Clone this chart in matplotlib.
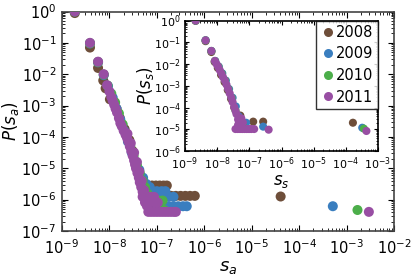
import numpy as np
import matplotlib
matplotlib.use("Agg")
import matplotlib.pyplot as plt
from matplotlib.ticker import LogLocator, NullFormatter, FixedLocator

# ---------------- data (log10 values) ----------------
years = ["2008", "2009", "2010", "2011"]
colors = ["#6e4e3a", "#3a7ebf", "#4cae4a", "#984ea3"]

# main panel: s_a vs P(s_a)
main_2008_lx = [-8.73, -8.41, -8.24, -8.13, -8.08, -7.99, -7.85, -7.78, -7.68, -7.58, -7.51, -7.44, -7.38,
                -7.33, -7.28, -7.10, -7.02, -6.94, -6.86, -6.79,
                -7.00, -6.90, -6.80, -6.70, -6.60, -6.50, -6.40, -6.30, -6.20, -4.39]
main_2008_ly = [-0.05, -1.15, -1.80, -2.20, -2.45, -2.80, -3.10, -3.40, -3.75, -4.10, -4.45, -4.80, -5.10,
                -5.35, -5.55, -5.55, -5.55, -5.55, -5.55, -5.55,
                -5.88, -5.88, -5.88, -5.88, -5.88, -5.88, -5.88, -5.88, -5.88, -5.90]

main_2009_lx = [-8.73, -8.41, -8.24, -8.12, -8.03, -7.93, -7.85, -7.77, -7.69, -7.61, -7.53, -7.45, -7.37,
                -7.29, -7.22, -7.15, -7.20, -7.10, -7.00, -6.90, -6.82,
                -7.15, -7.05, -6.95, -6.85, -6.75, -6.65,
                -7.05, -6.95, -6.85, -6.75, -6.65, -6.55, -6.45, -6.37, -3.29]
main_2009_ly = [0.0, -1.02, -1.62, -2.03, -2.38, -2.75, -3.10, -3.45, -3.80, -4.15, -4.50, -4.80, -5.05,
                -5.30, -5.50, -5.60, -5.73, -5.73, -5.73, -5.73, -5.73,
                -5.91, -5.91, -5.91, -5.91, -5.91, -5.91,
                -6.21, -6.21, -6.21, -6.21, -6.21, -6.21, -6.21, -6.21, -6.21]

main_2010_lx = [-8.73, -8.41, -8.24, -8.12, -8.04, -7.96, -7.88, -7.80, -7.72, -7.64, -7.56, -7.49, -7.42,
                -7.36, -7.30, -7.25, -7.20, -7.12, -7.04, -6.96, -6.88,
                -7.15, -7.05, -6.95, -6.85, -2.77]
main_2010_ly = [0.0, -1.01, -1.61, -2.01, -2.36, -2.62, -2.90, -3.25, -3.60, -3.95, -4.30, -4.60, -4.90,
                -5.15, -5.40, -5.60, -5.80, -6.03, -6.03, -6.03, -6.03,
                -6.33, -6.33, -6.33, -6.33, -6.33]

main_2011_lx = [-8.73, -8.41, -8.24, -8.12, -8.05, -8.00, -7.96, -7.93, -7.90, -7.87, -7.84, -7.80, -7.77,
                -7.74, -7.70, -7.66, -7.63, -7.60, -7.57, -7.54, -7.51, -7.48, -7.46, -7.44, -7.41,
                -7.38, -7.36, -7.33, -7.30, -7.27, -7.24, -7.21, -7.18,
                -7.62, -7.55, -7.48, -7.42, -7.37, -7.32, -7.27, -7.22,
                -7.30, -7.22, -7.14, -7.06, -7.25, -7.15, -7.05, -6.98,
                -7.12, -7.06, -7.00, -6.94, -6.88, -6.82, -6.76, -6.70, -6.64, -6.60, -2.53]
main_2011_ly = [0.0, -1.00, -1.60, -2.00, -2.35, -2.55, -2.73, -2.85, -2.97, -3.10, -3.22, -3.40, -3.56,
                -3.66, -3.80, -3.93, -4.03, -4.15, -4.30, -4.45, -4.60, -4.75, -4.88, -5.00, -5.15,
                -5.30, -5.45, -5.60, -5.75, -5.90, -6.05, -6.20, -6.39,
                -3.90, -4.20, -4.50, -4.80, -5.10, -5.40, -5.70, -5.95,
                -5.91, -5.91, -5.91, -5.91, -6.09, -6.09, -6.09, -6.09,
                -6.39, -6.39, -6.39, -6.39, -6.39, -6.39, -6.39, -6.39, -6.39, -6.39, -6.39]

# inset: s_s vs P(s_s)
ins_2008_lx = [-8.67, -8.36, -8.18, -8.08, -7.98, -7.88, -7.77, -7.67, -7.57, -7.47, -7.28, -6.88, -6.57, -3.78]
ins_2008_ly = [-0.02, -0.95, -1.45, -1.90, -2.18, -2.50, -2.83, -3.20, -3.60, -4.00, -4.37, -4.65, -4.65, -4.70]
ins_2009_lx = [-8.67, -8.36, -8.18, -8.06, -7.95, -7.84, -7.73, -7.63, -7.52, -7.42, -7.33, -7.10, -6.57, -3.49]
ins_2009_ly = [0.0, -0.91, -1.40, -1.86, -2.12, -2.43, -2.76, -3.15, -3.55, -3.95, -4.40, -4.70, -4.88, -4.93]
ins_2010_lx = [-8.67, -8.36, -8.18, -8.07, -7.96, -7.86, -7.75, -7.65, -7.55, -7.43, -7.20, -3.44]
ins_2010_ly = [0.0, -0.91, -1.40, -1.86, -2.12, -2.43, -2.76, -3.15, -3.55, -4.14, -4.85, -4.97]
ins_2011_lx = [-8.67, -8.36, -8.18, -8.07, -8.02, -7.97, -7.92, -7.87, -7.82, -7.76, -7.71, -7.66, -7.61,
               -7.56, -7.52, -7.47, -7.43, -7.40, -7.35,
               -7.43, -7.36, -7.29, -7.22, -7.15, -7.08, -7.01, -6.94, -6.85,
               -7.30, -7.20, -7.35, -7.25, -6.40, -3.36]
ins_2011_ly = [0.0, -0.91, -1.40, -1.86, -2.00, -2.12, -2.28, -2.43, -2.60, -2.76, -2.95, -3.15, -3.35,
               -3.55, -3.75, -3.98, -4.15, -4.30, -4.55,
               -4.99, -4.99, -4.99, -4.99, -4.99, -4.99, -4.99, -4.99, -4.99,
               -4.69, -4.69, -4.80, -4.50, -5.02, -5.08]

# axis ticks (decades)
main_xticks = [1e-9, 1e-8, 1e-7, 1e-6, 1e-5, 1e-4, 1e-3, 1e-2]
main_yticks = [1e-7, 1e-6, 1e-5, 1e-4, 1e-3, 1e-2, 1e-1, 1e0]
ins_xticks = [1e-9, 1e-8, 1e-7, 1e-6, 1e-5, 1e-4, 1e-3]
ins_yticks = [1e-6, 1e-5, 1e-4, 1e-3, 1e-2, 1e-1, 1e0]

main_series = [(main_2008_lx, main_2008_ly), (main_2009_lx, main_2009_ly),
               (main_2010_lx, main_2010_ly), (main_2011_lx, main_2011_ly)]
ins_series = [(ins_2008_lx, ins_2008_ly), (ins_2009_lx, ins_2009_ly),
              (ins_2010_lx, ins_2010_ly), (ins_2011_lx, ins_2011_ly)]

# ---------------- figure ----------------
W, H = 414, 276
fig = plt.figure(figsize=(W / 100, H / 100), dpi=100)

def style_log_axes(ax, xt, yt, lab_size, spine_color):
    ax.set_xscale("log")
    ax.set_yscale("log")
    for axis, t in ((ax.xaxis, xt), (ax.yaxis, yt)):
        axis.set_major_locator(FixedLocator(t))
        axis.set_minor_locator(LogLocator(base=10, subs=np.arange(2, 10), numticks=20))
        axis.set_minor_formatter(NullFormatter())
    ax.tick_params(which="both", direction="in", top=True, right=True,
                   labelsize=lab_size, colors="black")
    ax.tick_params(which="major", length=4, width=0.8)
    ax.tick_params(which="minor", length=2, width=0.6)
    for sp in ax.spines.values():
        sp.set_color(spine_color)
        sp.set_linewidth(1.2)

# main axes
ax = fig.add_axes([62 / W, 1 - 231 / H, (394 - 62) / W, (231 - 11.5) / H])
for (lx, ly), c, yr in zip(main_series, colors, years):
    ax.scatter(10 ** np.array(lx), 10 ** np.array(ly), s=52, color=c, edgecolors="none",
               zorder=3)
style_log_axes(ax, main_xticks, main_yticks, 10.5, "#444444")
ax.set_xlim(1e-9, 1e-2)
ax.set_ylim(1e-7, 1)
ax.tick_params(axis="x", pad=5)
ax.tick_params(axis="y", pad=4)
ax.set_xlabel("$s_a$", fontsize=13, labelpad=1)
ax.set_ylabel("$P(s_a)$", fontsize=12, labelpad=0)

# inset axes
ins = fig.add_axes([185 / W, 1 - 151 / H, (378 - 185) / W, (151 - 20.5) / H])
handles = []
for (lx, ly), c, yr in zip(ins_series, colors, years):
    ins.scatter(10 ** np.array(lx), 10 ** np.array(ly), s=34, color=c, edgecolors="none",
                zorder=3)
    handles.append(plt.Line2D([], [], marker="o", linestyle="none", markersize=6.5,
                              markerfacecolor=c, markeredgecolor="none", label=yr))
style_log_axes(ins, ins_xticks, ins_yticks, 8, "black")
ins.set_xlim(1e-9, 1e-3)
ins.set_ylim(1e-6, 1)
ins.tick_params(which="major", length=3)
ins.tick_params(which="minor", length=1.5)
ins.tick_params(axis="x", pad=3.5)
ins.tick_params(axis="y", pad=3)
ins.set_xlabel("$s_s$", fontsize=12, labelpad=-0.5)
ins.set_ylabel("$P(s_s)$", fontsize=12, labelpad=-2)

leg = ins.legend(handles=handles, loc="upper right", fontsize=10.5, frameon=True,
                 fancybox=False, borderaxespad=0.0, handletextpad=0.1,
                 handlelength=1.0, borderpad=0.3, labelspacing=0.45)
leg.get_frame().set_edgecolor("black")
leg.get_frame().set_linewidth(1.0)

fig.savefig("out.png", dpi=100)
